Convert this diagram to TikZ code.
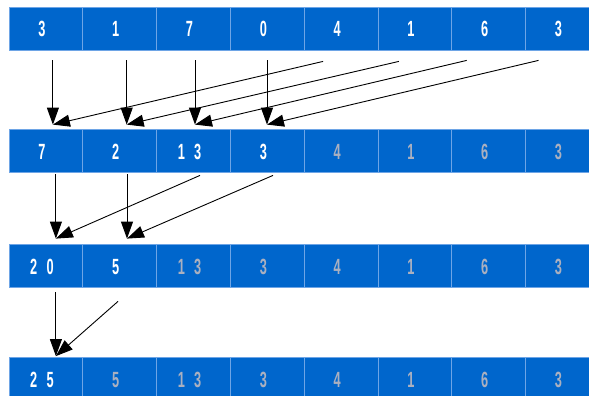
\documentclass[tikz,border=0pt]{standalone}
\usepackage{fontspec}
\setmainfont{Liberation Sans}
\usetikzlibrary{arrows.meta,calc}

\definecolor{cellblue}{RGB}{0,102,204}
\definecolor{cellline}{RGB}{110,165,230}
\definecolor{donetext}{RGB}{170,176,192}

% condensed bold digits
\newcommand\dig[1]{\hspace*{-8pt}\scalebox{0.58}[1]{#1}}

\begin{document}
\begin{tikzpicture}[x=1pt,y=-1pt,
  cell/.style={draw=cellline, line width=0.8pt, fill=cellblue,
    minimum width=73.8pt, minimum height=43pt, inner sep=0pt,
    text height=16pt, text depth=0pt,
    font=\fontsize{22}{24}\selectfont\bfseries},
  live/.style={cell, text=white},
  done/.style={cell, text=donetext},
  flow/.style={draw=black, line width=0.9pt,
    -{Triangle[length=17pt,width=12pt]}}]

\clip (0,0) rectangle (589,396);
\fill[white] (0,0) rectangle (589,396);

% row 1
\foreach \v [count=\i from 0] in {3,1,7,0,4,1,6,3}
  \node[live] (r1c\i) at (45.9+73.8*\i,29) {\dig{\v}};
% row 2
\foreach \v [count=\i from 0] in {7,2,{1\hspace{16pt}3},3}
  \node[live] (r2c\i) at (45.9+73.8*\i,151) {\dig{\v}};
\foreach \v [count=\i from 4] in {4,1,6,3}
  \node[done] (r2c\i) at (45.9+73.8*\i,151) {\dig{\v}};
% row 3
\foreach \v [count=\i from 0] in {{2\hspace{16pt}0},5}
  \node[live] (r3c\i) at (45.9+73.8*\i,266) {\dig{\v}};
\foreach \v [count=\i from 2] in {{1\hspace{16pt}3},3,4,1,6,3}
  \node[done] (r3c\i) at (45.9+73.8*\i,266) {\dig{\v}};
% row 4
\node[live] (r4c0) at (45.9,379) {\dig{2\hspace{16pt}5}};
\foreach \v [count=\i from 1] in {5,{1\hspace{16pt}3},3,4,1,6,3}
  \node[done] (r4c\i) at (45.9+73.8*\i,379) {\dig{\v}};

% first pass: cell j receives itself and cell j+4
\coordinate (t10) at ($(r2c0.north)+(7,-4.5)$);
\coordinate (t11) at ($(r2c1.north)+(7,-4.5)$);
\coordinate (t12) at ($(r2c2.north)+(1.5,-4.5)$);
\coordinate (t13) at ($(r2c3.north)+(-0.3,-4.5)$);
\coordinate (s14) at ($(r1c4.south)+(-18,10.5)$);
\coordinate (s15) at ($(r1c5.south)+(-16,10.5)$);
\coordinate (s16) at ($(r1c6.south)+(-22,9.5)$);
\coordinate (s17) at ($(r1c7.south)+(-24,9.5)$);
\foreach \j/\k in {0/4,1/5,2/6,3/7}{
  \coordinate (v1\j) at (r1c\j.south -| t1\j);
  \draw[flow] ($(v1\j)+(0,9.5)$) -- (t1\j);
  \draw[flow] (s1\k) -- (t1\j);
}

% second pass: cell j receives itself and cell j+2
\coordinate (t20) at ($(r3c0.north)+(10,-5.5)$);
\coordinate (t21) at ($(r3c1.north)+(7.3,-5.5)$);
\coordinate (s22) at ($(r2c2.south)+(6.5,2.5)$);
\coordinate (s23) at ($(r2c3.south)+(5.7,2.5)$);
\foreach \j/\k in {0/2,1/3}{
  \coordinate (v2\j) at (r2c\j.south -| t2\j);
  \draw[flow] ($(v2\j)+(0,1.5)$) -- (t2\j);
  \draw[flow] (s2\k) -- (t2\j);
}

% third pass: cell 0 receives itself and cell 1
\coordinate (t30) at ($(r4c0.north)+(10,-1)$);
\coordinate (s31) at ($(r3c1.south)+(-1.7,13.5)$);
\coordinate (v30) at (r3c0.south -| t30);
\draw[flow] ($(v30)+(0,4.5)$) -- (t30);
\draw[flow] (s31) -- (t30);

\end{tikzpicture}
\end{document}
